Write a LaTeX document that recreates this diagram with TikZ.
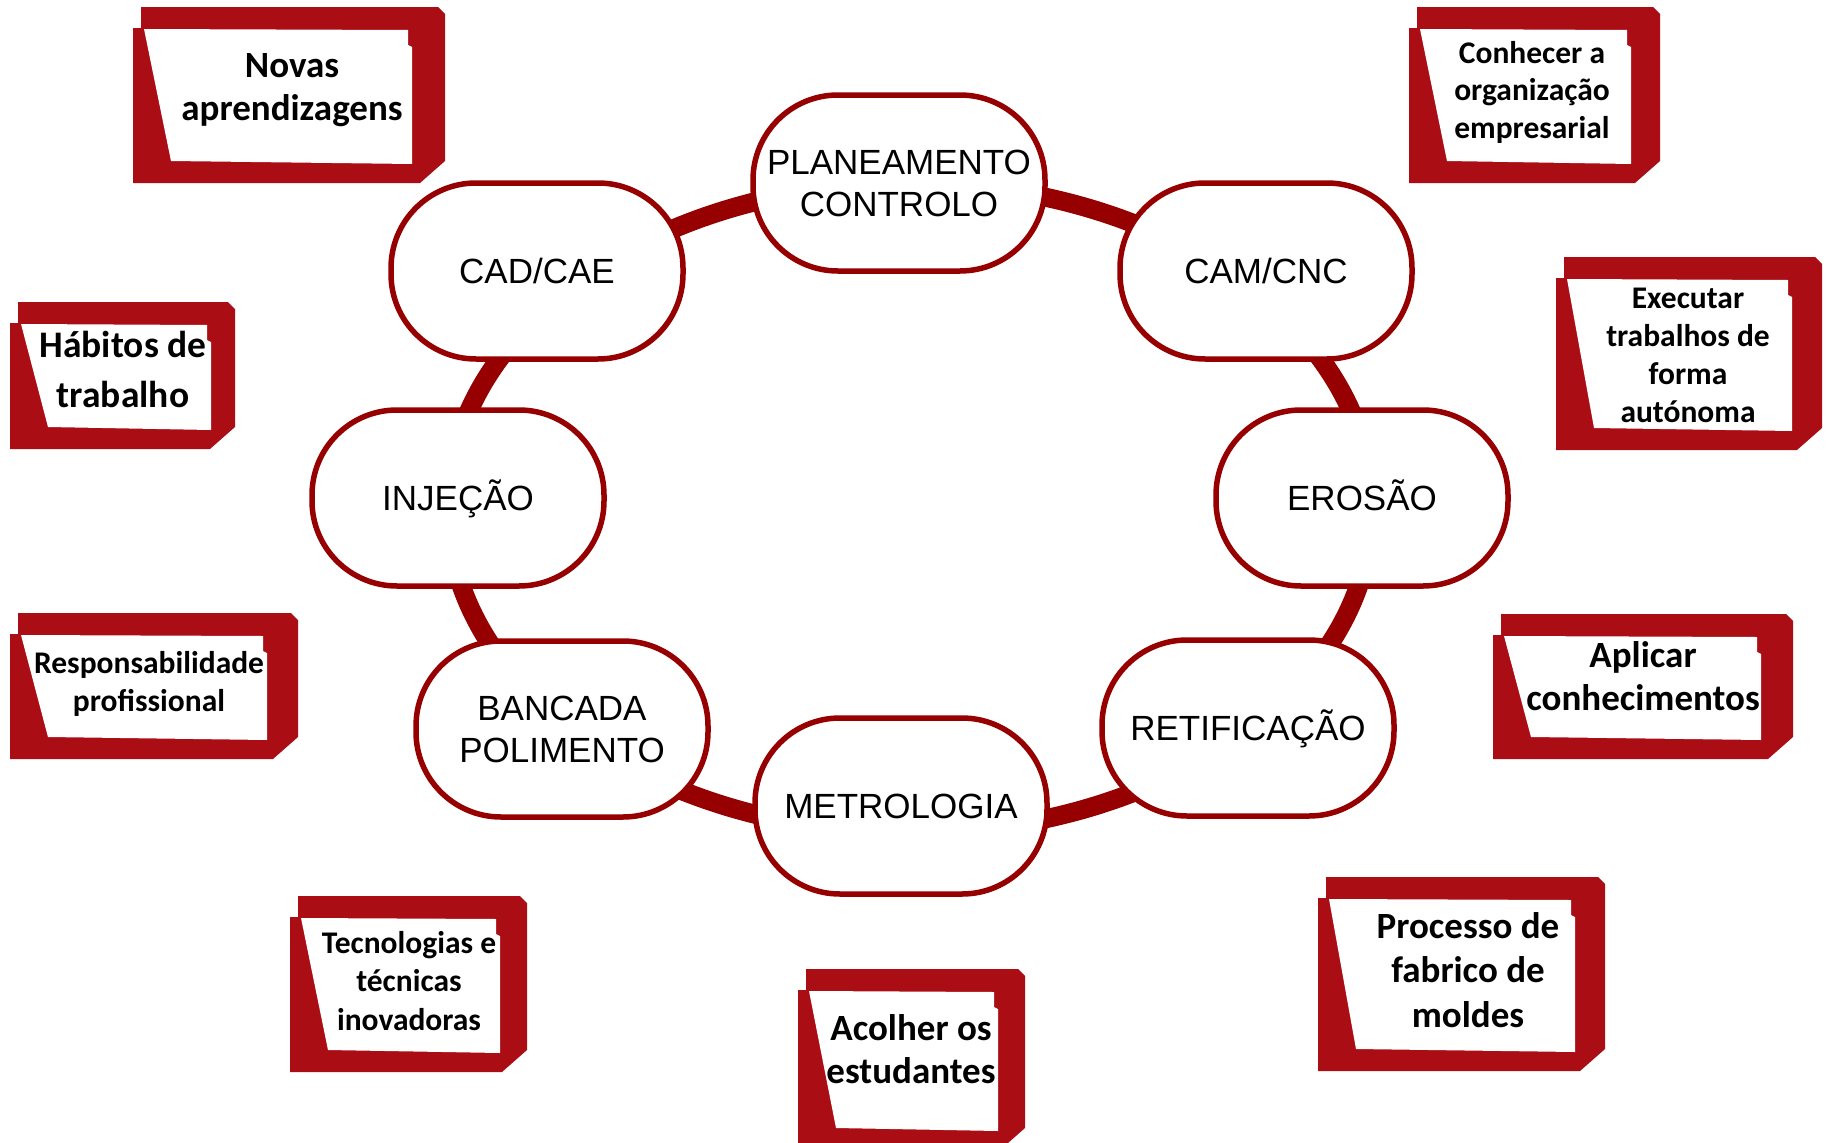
\documentclass[tikz,border=0pt]{standalone}
\usepackage{fontspec}
\setmainfont{Liberation Sans}
\newfontfamily\notefont{Carlito}
\definecolor{ringred}{RGB}{150,0,0}
\definecolor{notered}{RGB}{170,13,20}
\newcommand\stickynote[5][29]{%
  \fill[notered] (#2+8,#3) -- (#4-7,#3) -- (#4,#3+7) -- (#4,#5-22) -- (#4-25,#5) -- (#2,#5) -- (#2,#3+21) -- (#2+8,#3+21) -- cycle;
  \fill[white] (#2+11,#3+22) -- (#4-#1-4,#3+23) -- (#4-#1-4,#3+38) -- (#4-#1,#3+40) -- (#4-#1,#5-19) -- (#2+38,#5-22) -- cycle;
}
\tikzset{
  stage/.style={draw=ringred, line width=5.5pt, fill=white, rounded corners=85pt,
    minimum width=292pt, minimum height=176pt, inner sep=0pt, align=center,
    font=\fontsize{35pt}{42pt}\selectfont, text=black},
  oneline/.style={text height=25pt, text depth=0pt},
  notetxt/.style 2 args={anchor=base, align=center, inner sep=0pt, text=black,
    font=\notefont\bfseries\fontsize{#1}{#2}\selectfont},
  ring/.style={draw=ringred, line width=19pt}
}
\begin{document}
\begin{tikzpicture}[x=1pt,y=-1pt]
\useasboundingbox (0,0) rectangle (1829,1143);
\fill[white] (0,0) rectangle (1829,1143);
% ring
\draw[ring] (910,508) ellipse [x radius=462pt, y radius=325pt];
% stages
\node[stage] (plan) at (899,183) {PLANEAMENTO\\CONTROLO};
\node[stage,oneline] (cad) at (537,271) {CAD/CAE};
\node[stage,oneline] (cam) at (1266,271) {CAM/CNC};
\node[stage,oneline] (inj) at (458,498) {INJEÇÃO};
\node[stage,oneline] (ero) at (1362,498) {EROSÃO};
\node[stage] (banc) at (562,729) {BANCADA\\POLIMENTO};
\node[stage,oneline] (ret) at (1248,728) {RETIFICAÇÃO};
\node[stage,oneline] (metro) at (901,806) {METROLOGIA};
% sticky notes (text anchored at the baseline of the last line)
\stickynote[33]{133}{7}{445}{183}
\node[notetxt={37pt}{43pt}] (n1) at (292,120) {Novas\\aprendizagens};
\stickynote{1409}{7}{1660}{183}
\node[notetxt={31.5pt}{37.5pt}] (n2) at (1532,138) {Conhecer a\\organização\\empresarial};
\stickynote[24]{10}{302}{235}{449}
\node[notetxt={37.5pt}{50pt}] (n3) at (123,407) {Hábitos de\\trabalho};
\stickynote[30]{1556}{257}{1822}{450}
\node[notetxt={31.5pt}{38pt}] (n4) at (1688,422) {Executar\\trabalhos de\\forma\\autónoma};
\stickynote[31]{10}{613}{298}{759}
\node[notetxt={31.5pt}{38pt}] (n5) at (149,711) {Responsabilidade\\profissional};
\stickynote[32]{1493}{614}{1793}{759}
\node[notetxt={37pt}{43pt}] (n6) at (1643,710) {Aplicar\\conhecimentos};
\stickynote[27]{290}{896}{527}{1072}
\node[notetxt={31.5pt}{38.5pt}] (n7) at (409,1030) {Tecnologias e\\técnicas\\inovadoras};
\stickynote[27]{798}{969}{1025}{1150}
\node[notetxt={37pt}{43pt}] (n8) at (911,1083) {Acolher os\\estudantes};
\stickynote[30]{1318}{877}{1605}{1071}
\node[notetxt={37pt}{44.5pt}] (n9) at (1468,1027) {Processo de\\fabrico de\\moldes};
\end{tikzpicture}
\end{document}
